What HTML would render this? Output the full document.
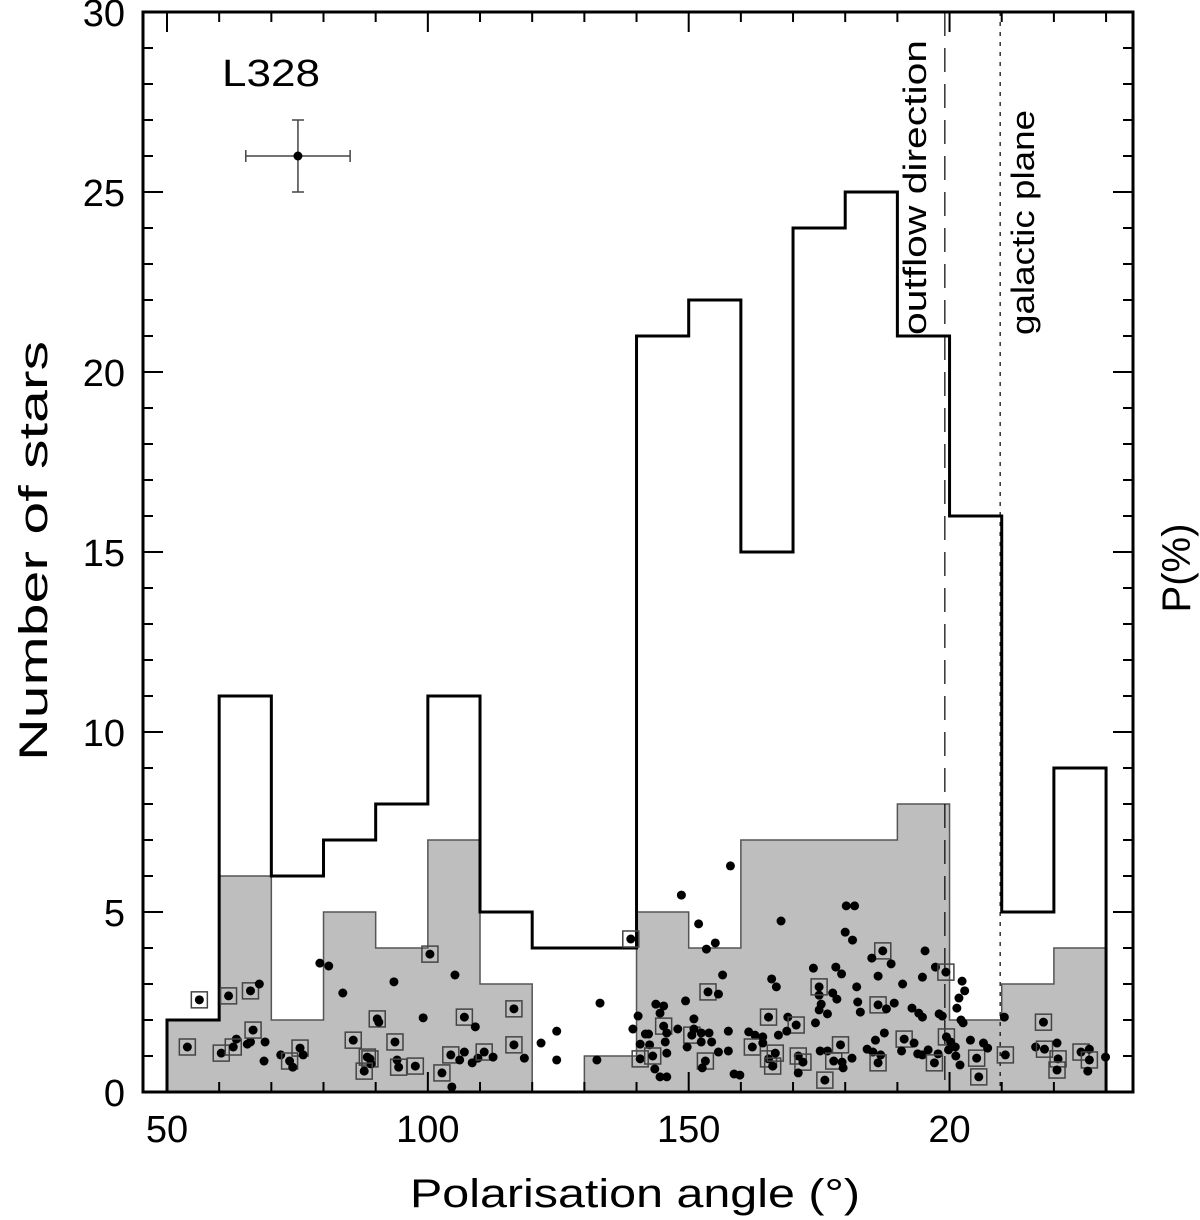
<!DOCTYPE html>
<html><head><meta charset="utf-8"><style>
body{margin:0;background:#fff}
svg{display:block;font-family:"Liberation Sans",sans-serif}
</style></head><body>
<svg id="chart" width="1200" height="1220" viewBox="0 0 1200 1220" xmlns="http://www.w3.org/2000/svg">
<g id="gray"></g>
<g id="lines"></g>
<g id="hist"></g>
<g id="pts"></g>
<g id="axes"></g>
<text x="222" y="86" font-size="38" textLength="98" lengthAdjust="spacingAndGlyphs">L328</text>
<text transform="translate(47,551) rotate(-90)" font-size="40" text-anchor="middle" textLength="420" lengthAdjust="spacingAndGlyphs">Number of stars</text>
<text transform="translate(1190,568) rotate(-90)" font-size="40" text-anchor="middle">P(%)</text>
<text x="410" y="1207" font-size="40" textLength="450" lengthAdjust="spacingAndGlyphs">Polarisation angle (°)</text>
<text transform="translate(926,335) rotate(-90)" font-size="32" textLength="295" lengthAdjust="spacingAndGlyphs">outflow direction</text>
<text transform="translate(1034,335) rotate(-90)" font-size="32" textLength="225" lengthAdjust="spacingAndGlyphs">galactic plane</text>
</svg>
<script>
const binStarts=[50,60,70,80,90,100,110,120,130,140,150,160,170,180,190,200,210,220];
const totalCounts=[2,11,6,7,8,11,5,4,4,21,22,15,24,25,21,16,5,9];
const subsetCounts=[2,6,2,5,4,7,3,0,1,5,4,7,7,7,8,2,3,4];
const xTickValues=[50,100,150,200];
const xTickLabels=["50","100","150","20"];
const yTickValues=[0,5,10,15,20,25,30];
const outflowAngle=199.1;
const galacticAngle=209.7;
const errCenter=[75.1,26.0];
const errSize=[10,1];
const ptAngle=[56.2,61.8,66.0,67.7,53.9,60.4,63.3,62.7,65.4,66.0,66.5,68.8,68.6,79.3,81.0,83.7,71.8,75.5,76.1,73.5,74.1,85.7,93.5,90.3,90.6,99.1,93.7,88.4,88.9,89.1,87.8,94.1,94.4,97.6,100.4,105.2,107.0,109.1,116.5,116.5,118.5,121.7,104.4,107.0,106.1,108.5,109.6,110.8,112.5,102.7,104.6,124.7,124.7,
133.0,132.4,138.9,148.6,158.0,151.9,153.4,155.1,156.5,153.7,155.7,149.4,140.3,139.3,143.7,145.2,144.5,145.2,147.9,151.0,141.7,142.3,140.7,142.5,140.7,143.1,143.5,144.5,145.8,145.5,145.8,145.8,150.6,151.0,149.7,152.4,152.4,153.9,154.4,153.2,152.6,155.7,157.6,157.6,158.7,159.8,161.5,162.7,162.2,164.2,164.2,165.9,166.8,165.3,169.0,170.6,168.8,167.2,165.3,166.1,166.6,167.7,173.9,178.2,179.3,175.0,175.0,177.6,178.4,175.4,175.0,176.6,174.3,171.0,171.9,171.0,175.2,176.6,179.1,177.8,179.4,179.6,181.3,176.1,180.2,181.8,180.0,181.4,182.2,182.4,182.9,187.2,185.1,188.8,186.3,186.3,187.9,189.4,187.5,185.8,184.2,185.3,186.8,186.3,191.0,195.3,194.8,192.8,194.1,194.8,191.3,190.8,193.2,193.9,194.8,195.9,197.8,197.1,197.3,199.3,198.0,198.6,199.4,200.2,201.1,199.8,201.2,202.0,202.4,202.9,201.8,201.4,202.2,202.6,204.0,205.2,205.6,206.5,207.3,210.5,210.7,218.0,216.5,218.2,220.6,220.8,220.6,225.2,226.8,226.8,226.5,229.9];
const ptP=[2.56,2.67,2.81,3.0,1.25,1.08,1.47,1.25,1.33,1.39,1.72,1.39,0.86,3.58,3.5,2.75,1.03,1.22,1.03,0.86,0.69,1.44,3.06,2.03,1.94,2.06,1.39,0.97,0.92,0.78,0.58,0.89,0.69,0.72,3.83,3.25,2.08,1.81,2.31,1.31,0.94,1.36,1.03,1.11,0.89,0.81,0.94,1.11,0.97,0.53,0.14,1.69,0.89,
2.47,0.89,4.25,5.47,6.28,4.67,3.97,4.14,3.25,2.78,2.72,2.53,2.11,1.75,2.44,2.39,2.19,1.83,1.75,2.03,1.61,1.61,1.33,1.31,0.92,1.0,0.64,0.42,0.42,1.39,1.64,1.08,1.58,1.75,1.25,1.64,1.39,1.64,1.39,0.86,0.67,1.11,1.14,1.69,0.5,0.47,1.67,1.58,1.25,1.53,1.36,3.14,2.92,2.08,2.08,1.86,1.69,1.58,0.92,0.72,1.08,4.75,3.44,3.47,3.28,2.69,2.92,2.75,2.58,2.44,2.28,2.17,1.92,1.0,0.83,0.53,1.14,1.14,1.31,0.86,0.83,0.67,0.94,0.33,5.17,5.17,4.44,4.22,2.92,2.5,2.22,3.92,3.72,3.56,3.22,2.42,2.31,2.47,1.64,1.44,1.19,1.11,1.03,0.81,3.0,3.92,3.19,2.33,2.19,2.08,1.47,1.14,1.36,1.06,1.03,1.17,1.06,0.81,3.47,3.33,2.17,2.11,1.53,1.39,1.25,1.17,1.0,0.75,3.08,2.81,2.61,2.33,2.0,1.92,1.44,0.94,0.42,1.36,1.22,2.08,1.03,1.94,1.25,1.19,1.36,0.92,0.61,1.11,1.19,0.89,0.58,0.97];
const ptBoxed=[1,1,1,0,1,1,0,1,0,0,1,0,0,0,0,0,0,1,0,1,0,1,0,1,0,0,1,1,1,0,1,0,1,1,1,0,1,0,1,1,0,0,1,0,0,0,0,1,0,1,0,0,0,
0,0,1,0,0,0,0,0,0,1,0,0,0,0,0,0,0,1,0,0,0,0,0,0,1,1,0,0,0,0,0,0,1,0,0,0,0,0,0,1,0,0,0,0,0,0,0,0,1,0,0,0,0,1,0,1,0,0,1,1,1,0,0,0,0,0,1,0,0,0,0,0,0,1,1,0,0,0,1,1,0,0,0,1,0,0,0,0,0,0,0,1,0,0,0,1,0,0,0,0,0,0,0,1,0,0,0,0,0,0,1,0,0,0,0,0,0,1,0,1,0,0,1,0,0,0,0,0,0,0,0,0,0,0,0,1,1,0,0,0,1,1,0,1,0,1,1,1,0,1,0,0];

const X=a=>167+(a-50)*5.217, Y=v=>1092-v*36;
const NS="http://www.w3.org/2000/svg";
function mk(tag,attrs,parent){const e=document.createElementNS(NS,tag);for(const k in attrs)e.setAttribute(k,attrs[k]);parent.appendChild(e);return e;}
function stepPath(counts,closed){
  let d="M"+X(binStarts[0])+","+Y(0);
  counts.forEach((c,i)=>{d+=" L"+X(binStarts[i])+","+Y(c)+" L"+X(binStarts[i]+10)+","+Y(c);});
  d+=" L"+X(binStarts[binStarts.length-1]+10)+","+Y(0);
  if(closed)d+=" Z";
  return d;
}
const gray=document.getElementById('gray');
let g=mk('path',{d:stepPath(subsetCounts,true),fill:'#bebebe',stroke:'#555','stroke-width':1.5},gray);


const hist=document.getElementById('hist');
let h=mk('path',{d:stepPath(totalCounts,false),fill:'none',stroke:'#000','stroke-width':3},hist);


const lines=document.getElementById('lines');
let l1=mk('line',{x1:X(outflowAngle),x2:X(outflowAngle),y1:Y(30),y2:Y(0),stroke:'#000','stroke-width':1.2,'stroke-dasharray':'24,12'},lines);


let l2=mk('line',{x1:X(galacticAngle),x2:X(galacticAngle),y1:Y(30),y2:Y(0),stroke:'#000','stroke-width':1.2,'stroke-dasharray':'4,6'},lines);


const pts=document.getElementById('pts');
ptAngle.forEach((a,i)=>{
  const cx=X(a),cy=Y(ptP[i]);
  if(ptBoxed[i]){
    const r=mk('rect',{x:cx-8,y:cy-8,width:16,height:16,fill:'none',stroke:'#444','stroke-width':1.5},pts);
    
    
  }
  const c=mk('circle',{cx:cx,cy:cy,r:4.5,fill:'#000'},pts);
  
  
});
const eb=mk('g',{},pts);


const ex=X(errCenter[0]),ey=Y(errCenter[1]);
const x0=X(errCenter[0]-errSize[0]),x1=X(errCenter[0]+errSize[0]),y0=Y(errCenter[1]+errSize[1]),y1=Y(errCenter[1]-errSize[1]);
[[x0,ey,x1,ey],[ex,y0,ex,y1],[x0,ey-6,x0,ey+6],[x1,ey-6,x1,ey+6],[ex-6,y0,ex+6,y0],[ex-6,y1,ex+6,y1]].forEach(s=>mk('line',{x1:s[0],y1:s[1],x2:s[2],y2:s[3],stroke:'#444','stroke-width':1.5},eb));
mk('circle',{cx:ex,cy:ey,r:4.5,fill:'#000'},eb);
const ax=document.getElementById('axes');
const L=143,R=1133,T=12,B=1092;
const fr=mk('rect',{x:L,y:T,width:R-L,height:B-T,fill:'none',stroke:'#000','stroke-width':3},ax);


for(let v=0;v<=30;v++){
  const len=v%5===0?20:10,y=Y(v);
  mk('line',{x1:L,x2:L+len,y1:y,y2:y,stroke:'#000','stroke-width':2},ax);
  mk('line',{x1:R-len,x2:R,y1:y,y2:y,stroke:'#000','stroke-width':2},ax);
}
yTickValues.forEach(v=>{
  const t=mk('text',{x:125,y:Y(v)+14,'font-size':38,'text-anchor':'end'},ax);
  t.textContent=String(v);
  
  
});
for(let a=50;a<=230;a+=10){
  const len=(xTickValues.indexOf(a)>=0)?20:10,x=X(a);
  mk('line',{x1:x,x2:x,y1:T,y2:T+len,stroke:'#000','stroke-width':2},ax);
  mk('line',{x1:x,x2:x,y1:B-len,y2:B,stroke:'#000','stroke-width':2},ax);
}
xTickValues.forEach((v,i)=>{
  const t=mk('text',{x:X(v),y:1142,'font-size':38,'text-anchor':'middle'},ax);
  t.textContent=xTickLabels[i];
  
  
});
</script>
</body></html>
